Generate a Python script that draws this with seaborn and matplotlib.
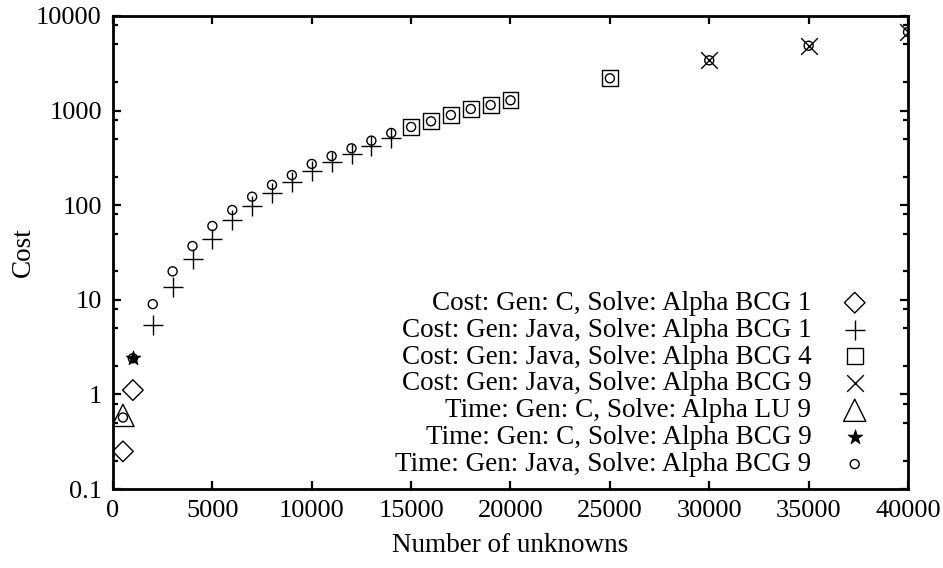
import matplotlib
matplotlib.use("Agg")
import matplotlib.pyplot as plt
import seaborn as sns
import numpy as np
from matplotlib.ticker import LogLocator, NullFormatter, FuncFormatter

# ---- data ----
c_bcg1_x = [500, 1000]
c_bcg1_y = [0.25, 1.11]

java_bcg1_x = [2000, 3000, 4000, 5000, 6000, 7000, 8000, 9000, 10000, 11000, 12000, 13000, 14000]
java_bcg1_y = [5.4, 13.6, 26.8, 44.3, 69, 98, 134, 177, 230, 288, 348, 419, 510]

java_bcg4_x = [15000, 16000, 17000, 18000, 19000, 20000, 25000]
java_bcg4_y = [671, 771, 898, 1040, 1146, 1285, 2195]

java_bcg9_x = [30000, 35000, 40000]
java_bcg9_y = [3400, 4850, 6780]

time_c_lu9_x = [500]
time_c_lu9_y = [0.6]

time_c_bcg9_x = [1000]
time_c_bcg9_y = [2.41]

time_java_bcg9_x = [500, 1000, 2000, 3000, 4000, 5000, 6000, 7000, 8000, 9000, 10000, 11000,
                    12000, 13000, 14000, 15000, 16000, 17000, 18000, 19000, 20000, 25000,
                    30000, 35000, 40000]
time_java_bcg9_y = [0.57, 2.41, 9.0, 20.0, 37, 60.3, 89, 123, 164, 208, 273, 331,
                    399, 481, 580, 671, 771, 898, 1040, 1146, 1285, 2195,
                    3400, 4850, 6780]

labels = [
    "Cost: Gen: C, Solve: Alpha BCG 1",
    "Cost: Gen: Java, Solve: Alpha BCG 1",
    "Cost: Gen: Java, Solve: Alpha BCG 4",
    "Cost: Gen: Java, Solve: Alpha BCG 9",
    "Time: Gen: C, Solve: Alpha LU 9",
    "Time: Gen: C, Solve: Alpha BCG 9",
    "Time: Gen: Java, Solve: Alpha BCG 9",
]

x_ticks = [0, 5000, 10000, 15000, 20000, 25000, 30000, 35000, 40000]

# ---- style ----
sns.set_theme(style="ticks")
plt.rcParams['font.family'] = ['Liberation Serif', 'DejaVu Serif']
plt.rcParams['text.color'] = 'black'
plt.rcParams['axes.labelcolor'] = 'black'
plt.rcParams['xtick.color'] = 'black'
plt.rcParams['ytick.color'] = 'black'
FS = 19.5
TFS = 19

fig = plt.figure(figsize=(9.43, 5.68), dpi=100)
ax = fig.add_axes([113/943, 1-489/568, (908-113)/943, (489-16)/568])

lw = 1.0
sns.scatterplot(x=c_bcg1_x, y=c_bcg1_y, ax=ax, marker='D', s=10.5**2,
                facecolor='none', edgecolor='black', linewidth=lw, label=labels[0], zorder=3)
sns.scatterplot(x=java_bcg1_x, y=java_bcg1_y, ax=ax, marker='+', s=15**2,
                color='black', linewidth=lw, label=labels[1], zorder=3)
sns.scatterplot(x=java_bcg4_x, y=java_bcg4_y, ax=ax, marker='s', s=11.5**2,
                facecolor='none', edgecolor='black', linewidth=lw, label=labels[2], zorder=3)
sns.scatterplot(x=java_bcg9_x, y=java_bcg9_y, ax=ax, marker='x', s=12**2,
                color='black', linewidth=lw, label=labels[3], zorder=3)
sns.scatterplot(x=time_c_lu9_x, y=time_c_lu9_y, ax=ax, marker='^', s=16**2,
                facecolor='none', edgecolor='black', linewidth=lw, label=labels[4], zorder=3)
sns.scatterplot(x=time_c_bcg9_x, y=time_c_bcg9_y, ax=ax, marker='*', s=11**2,
                color='black', edgecolor='black', linewidth=0.6, label=labels[5], zorder=4)
sns.scatterplot(x=time_java_bcg9_x, y=time_java_bcg9_y, ax=ax, marker='o', s=6.5**2,
                facecolor='none', edgecolor='black', linewidth=lw, label=labels[6], zorder=5)

ax.set_yscale('log')
ax.set_xlim(0, 40000)
ax.set_ylim(0.1, 10000)
ax.set_xticks(x_ticks)
ax.yaxis.set_major_locator(LogLocator(base=10, numticks=10))
ax.yaxis.set_minor_locator(LogLocator(base=10, subs=[2, 5, 8], numticks=10))
ax.yaxis.set_minor_formatter(NullFormatter())
ax.yaxis.set_major_formatter(FuncFormatter(lambda v, p: f"{v:g}"))
ax.xaxis.set_major_formatter(FuncFormatter(lambda v, p: f"{int(v)}"))

for s in ax.spines.values():
    s.set_linewidth(2.0)
    s.set_color('black')
    s.set_visible(True)
ax.tick_params(which='both', direction='in', top=True, right=True, colors='black',
               labelsize=TFS)
ax.tick_params(which='major', length=6, width=1.6, pad=8)
ax.tick_params(which='minor', length=3.5, width=1.6)

ax.set_xlabel("Number of unknowns", fontsize=FS, labelpad=8)
ax.set_ylabel("Cost", fontsize=FS)
ax.yaxis.set_label_coords(-0.097, 0.5)

leg = ax.legend(loc='lower right', bbox_to_anchor=(0.95, 0.025), frameon=False,
                markerfirst=False, fontsize=FS, labelspacing=0.07, handlelength=1.0,
                handletextpad=1.1, borderpad=0, borderaxespad=0)

fig.savefig("out.png", dpi=100)
